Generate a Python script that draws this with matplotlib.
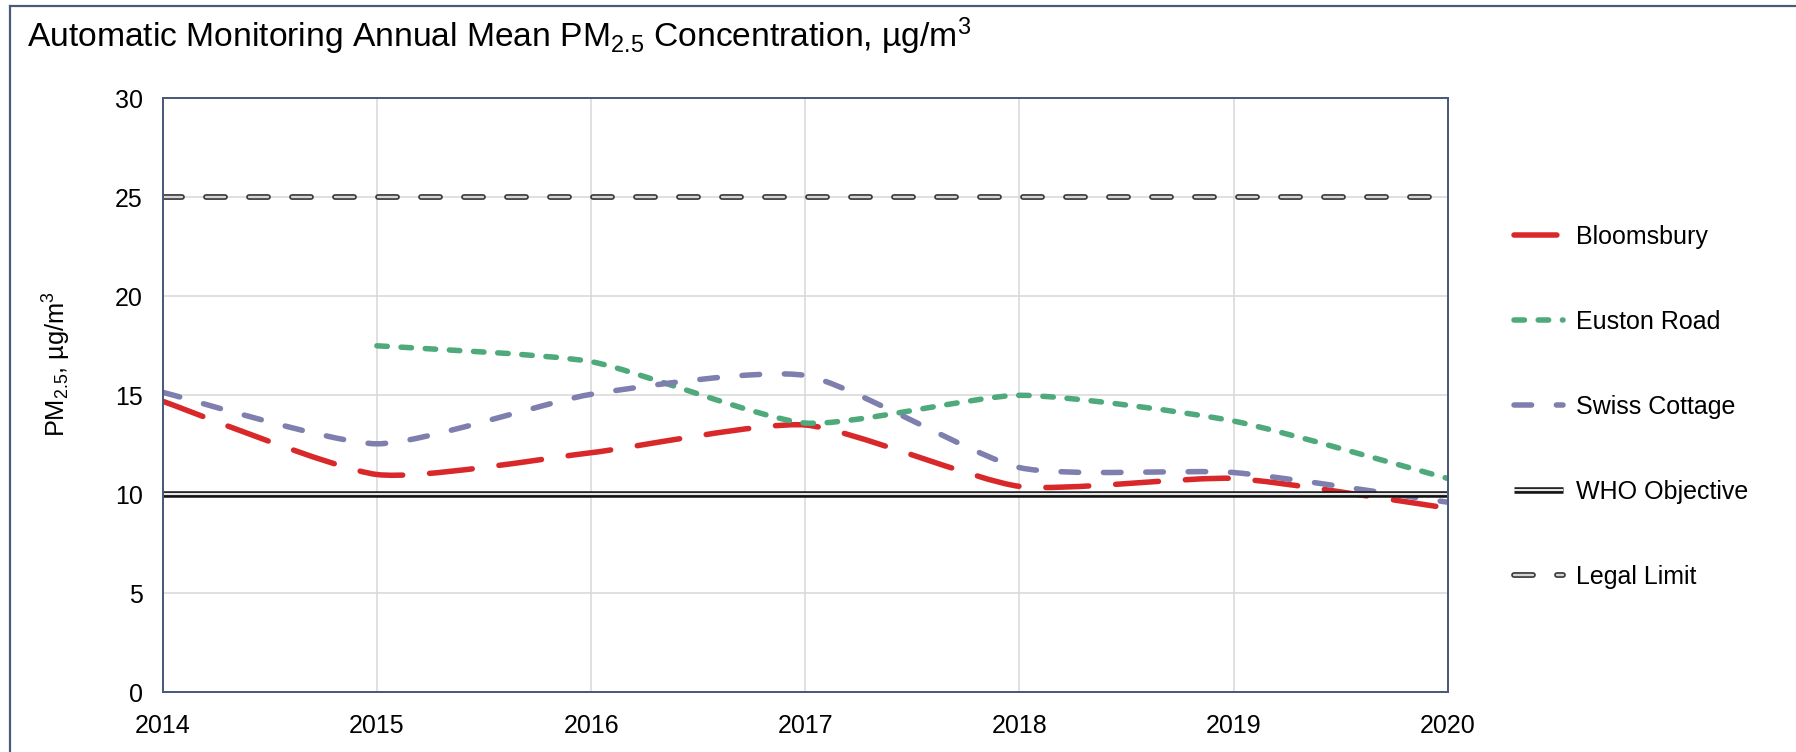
import numpy as np
import matplotlib
matplotlib.use('Agg')
import matplotlib.pyplot as plt
from matplotlib.path import Path
from matplotlib.patches import PathPatch
from matplotlib.lines import Line2D

plt.rcParams['font.family'] = ['Liberation Sans', 'DejaVu Sans']
plt.rcParams['mathtext.fontset'] = 'custom'
plt.rcParams['mathtext.rm'] = 'Liberation Sans'
plt.rcParams['mathtext.it'] = 'Liberation Sans:italic'
plt.rcParams['mathtext.bf'] = 'Liberation Sans:bold'
plt.rcParams['mathtext.default'] = 'regular'

# ---------------- data ----------------
years = [2014, 2015, 2016, 2017, 2018, 2019, 2020]
bloomsbury = [14.7, 11.0, 12.1, 13.5, 10.4, 10.8, 9.3]
euston_road = [None, 17.5, 16.7, 13.6, 15.0, 13.7, 10.8]
swiss_cottage = [15.15, 12.55, 15.05, 16.0, 11.35, 11.1, 9.6]
who_objective = 10
legal_limit = 25
series_names = ['Bloomsbury', 'Euston Road', 'Swiss Cottage', 'WHO Objective', 'Legal Limit']
y_ticks = [0, 5, 10, 15, 20, 25, 30]

title = 'Automatic Monitoring Annual Mean PM$_{2.5}$ Concentration, µg/m$^3$'
ylabel = 'PM$_{2.5}$, µg/m$^3$'

# ---------------- styling ----------------
W_PX, H_PX, DPI = 1796, 752, 100
fig = plt.figure(figsize=(W_PX / DPI, H_PX / DPI), dpi=DPI)
fig.patch.set_facecolor('white')


def pt(px):
    return px * 72.0 / DPI


ax_l, ax_r, ax_t, ax_b = 162.7, 1447.8, 98.3, 692.3
ax = fig.add_axes([ax_l / W_PX, 1 - ax_b / H_PX, (ax_r - ax_l) / W_PX, (ax_b - ax_t) / H_PX])

C_RED = '#D8282A'
C_GREEN = '#4EA97B'
C_PURPLE = '#7E7EAF'
C_SPINE = '#4A5A78'
C_GRID = '#D9D9D9'

LW = pt(5.5)
SMOOTH = 0.1


def smooth_path(xs, ys):
    pts = [(x, y) for x, y in zip(xs, ys) if y is not None]
    P = np.array(pts, dtype=float)
    n = len(P)
    verts = [P[0]]
    codes = [Path.MOVETO]
    for i in range(n - 1):
        p0 = P[i - 1] if i > 0 else P[i]
        p1 = P[i]
        p2 = P[i + 1]
        p3 = P[i + 2] if i + 2 < n else P[i + 1]
        c1 = p1 + (p2 - p0) * SMOOTH
        c2 = p2 - (p3 - p1) * SMOOTH
        verts += [c1, c2, p2]
        codes += [Path.CURVE4] * 3
    return Path(verts, codes)


series = [
    (bloomsbury, C_RED, (7.8, 4.9)),
    (euston_road, C_GREEN, (1.9, 2.5)),
    (swiss_cottage, C_PURPLE, (3.2, 4.5)),
]

handles = []
for vals, col, dash in series:
    patch = PathPatch(smooth_path(years, vals), facecolor='none', edgecolor=col,
                      lw=LW, linestyle=(0, dash), capstyle='round', joinstyle='round',
                      zorder=3)
    ax.add_patch(patch)
    handles.append(Line2D([], [], color=col, lw=LW, linestyle=(0, dash),
                          dash_capstyle='round', solid_capstyle='round'))

# WHO objective (double line)
who_outer = dict(color='#111111', lw=pt(6.5), solid_capstyle='butt', zorder=4)
who_inner = dict(color='#E6E6E6', lw=pt(2.2), solid_capstyle='butt', zorder=5)
ax.axhline(who_objective, **who_outer)
ax.axhline(who_objective, **who_inner)
handles.append((Line2D([], [], **who_outer), Line2D([], [], **who_inner)))

# Legal limit (dashed double line)
on_px, off_px = 19.0, 24.0
lo_w, li_w = 5.8, 2.4
legal_outer = dict(color='#3A3A3A', lw=pt(lo_w), linestyle=(0, (on_px / lo_w, off_px / lo_w)),
                   dash_capstyle='round', zorder=4)
legal_inner = dict(color='#D4D4D4', lw=pt(li_w), linestyle=(0, (on_px / li_w, off_px / li_w)),
                   dash_capstyle='round', zorder=5)
ax.plot([years[0], years[-1]], [legal_limit, legal_limit], **legal_outer)
ax.plot([years[0], years[-1]], [legal_limit, legal_limit], **legal_inner)
handles.append((Line2D([], [], **legal_outer), Line2D([], [], **legal_inner)))

# axes
ax.set_xlim(years[0], years[-1])
ax.set_ylim(y_ticks[0], y_ticks[-1])
ax.set_xticks(years)
ax.set_xticklabels([str(y) for y in years])
ax.set_yticks(y_ticks)
ax.set_yticklabels([str(v) for v in y_ticks])
ax.grid(True, color=C_GRID, lw=pt(1.6), zorder=0)
ax.set_axisbelow(True)
ax.tick_params(axis='both', length=0, labelsize=18, colors='black')
ax.tick_params(axis='x', pad=pt(22))
ax.tick_params(axis='y', pad=pt(20))
for s in ax.spines.values():
    s.set_color(C_SPINE)
    s.set_linewidth(pt(2.0))
    s.set_zorder(6)

# title & y label
fig.text(27 / W_PX, 1 - 46.7 / H_PX, title, fontsize=24.2, ha='left', va='baseline', color='black')
fig.text(57 / W_PX, 1 - 364 / H_PX, ylabel, fontsize=18.3, rotation=90, ha='center', va='center',
         color='black')

# legend
leg = fig.legend(handles, series_names, loc='center left',
                 bbox_to_anchor=(1514 / W_PX, 1 - 407 / H_PX),
                 frameon=False, fontsize=18, handlelength=1.95, handletextpad=0.55,
                 labelspacing=2.44, borderpad=0, borderaxespad=0)

# outer frame (top and left only, as in the cropped reference)
fig.add_artist(Line2D([9.5 / W_PX, 9.5 / W_PX], [0, 1 - 5.7 / H_PX], transform=fig.transFigure,
                      color=C_SPINE, lw=pt(2.2)))
fig.add_artist(Line2D([9.5 / W_PX, 1], [1 - 5.7 / H_PX, 1 - 5.7 / H_PX], transform=fig.transFigure,
                      color=C_SPINE, lw=pt(2.2)))

fig.savefig('out.png', dpi=DPI, facecolor='white')
